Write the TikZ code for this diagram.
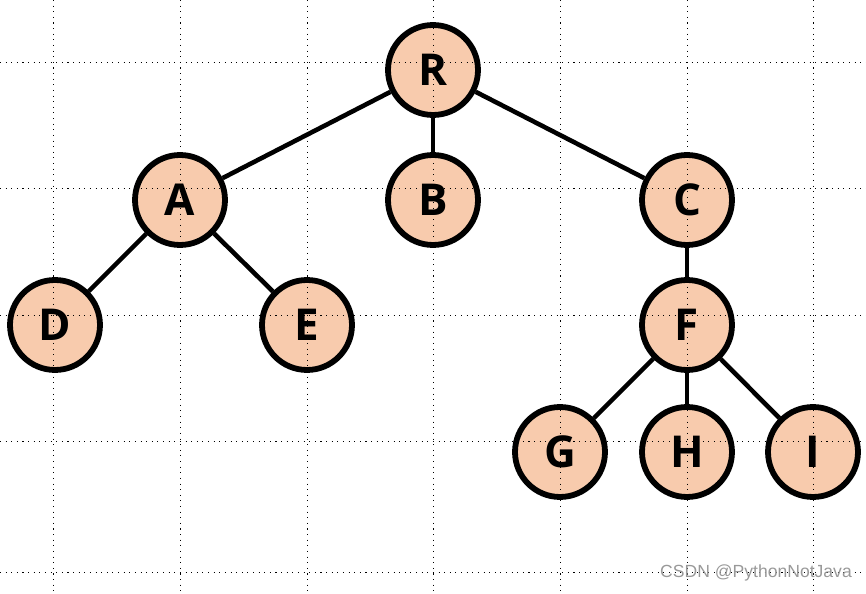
\documentclass[tikz,border=0pt]{standalone}
\usepackage{fontspec}
\setmainfont{Open Sans}
\newfontfamily\markfont{Liberation Sans}
\usepackage{tikz}

\definecolor{peach}{HTML}{F8CBAD}
\tikzset{
	vertex/.style={shape=circle,draw=black,fill=peach,line width=3.3pt,minimum size=1.8cm,inner sep=0pt,font=\fontsize{25}{25}\selectfont\bfseries},
	link/.style={-,line width=2.6pt},
	gridline/.style={black,line width=0.5pt,dash pattern=on 0.6pt off 2.6pt}
}

\begin{document}
\begin{tikzpicture}[x=0.02cm,y=-0.02cm]
	
	\useasboundingbox (0,0) rectangle (866,594);
	
	\node[vertex] (r) at (433, 70)  {R};
	\node[vertex] (a) at (180, 200) {A};
	\node[vertex] (b) at (433, 200) {B};
	\node[vertex] (c) at (687, 200) {C};
	\node[vertex] (d) at (55, 325)  {D};
	\node[vertex] (e) at (307, 325) {E};
	\node[vertex] (f) at (687, 325) {F};
	\node[vertex] (g) at (560, 452) {G};
	\node[vertex] (h) at (687, 452) {H};
	\node[vertex] (i) at (813, 452) {I};
	
	\path[link] (r) edge (a);
	\path[link] (r) edge (b);
	\path[link] (r) edge (c);
	\path[link] (a) edge (d);
	\path[link] (a) edge (e);
	\path[link] (c) edge (f);
	\path[link] (f) edge (g);
	\path[link] (f) edge (h);
	\path[link] (f) edge (i);
	
	% dotted grid over everything
	\foreach \gx in {53,180,307,433,560,687,813}
		\draw[gridline] (\gx,0) -- (\gx,594);
	\foreach \gy in {62,188,315,441,572}
		\draw[gridline] (0,\gy) -- (866,\gy);
	
	\node[font=\markfont\fontsize{10}{10}\selectfont,text=black!40] (mark) at (756,573) {CSDN @PythonNotJava};
	
\end{tikzpicture}
\end{document}
